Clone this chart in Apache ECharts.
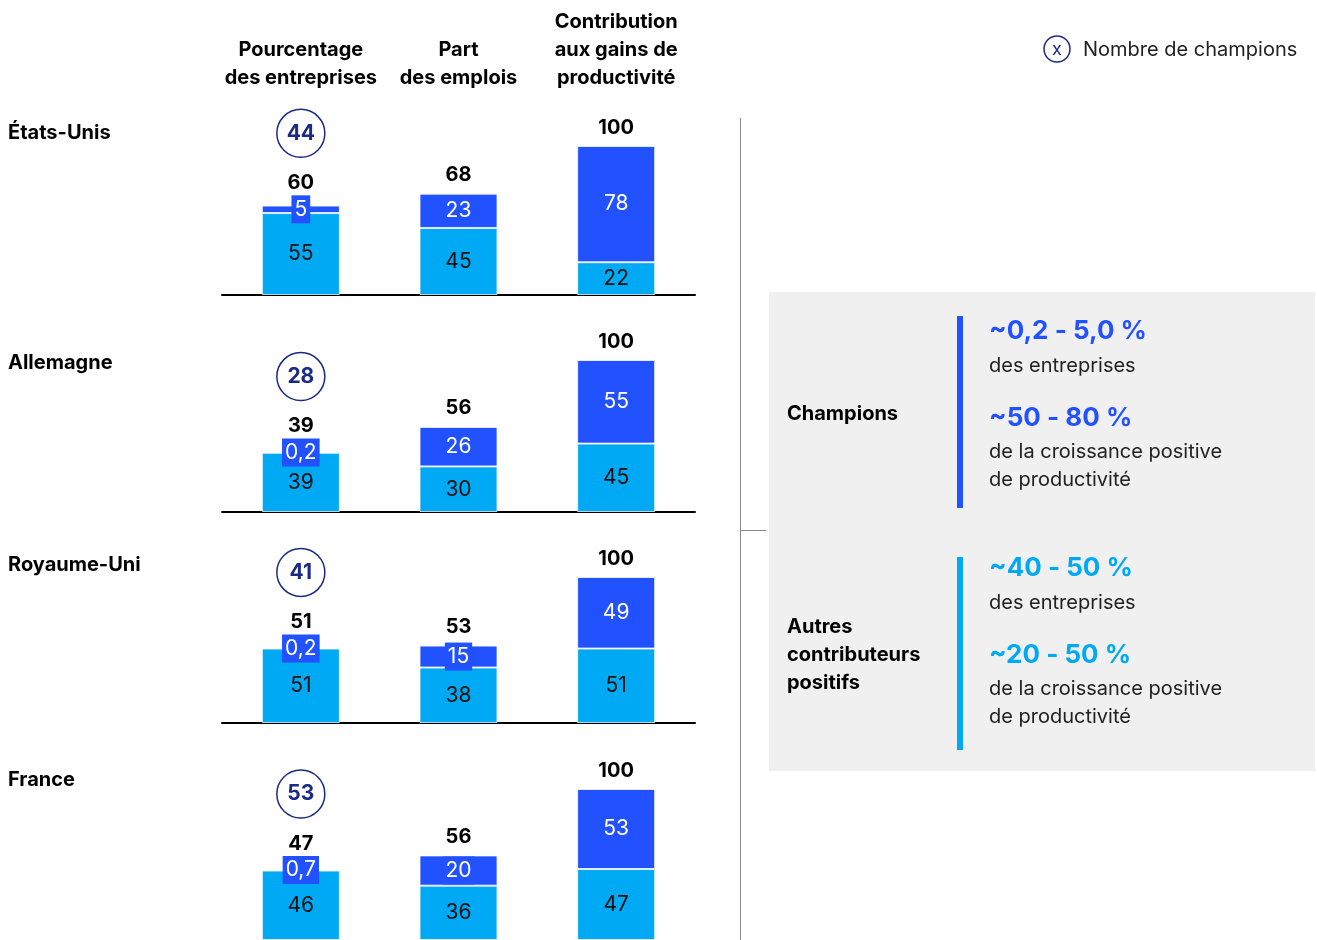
<!DOCTYPE html>
<html>
<head>
<meta charset="utf-8">
<script src="https://cdn.jsdelivr.net/npm/echarts@6/dist/echarts.min.js"></script>
<style>
  html, body { margin: 0; padding: 0; background: #fff; }
  #chart { width: 1317px; height: 940px; }
</style>
</head>
<body>
<div id="chart"></div>
<script>
// Column headers (categories) and country panels
const categories = ['Pourcentage\ndes entreprises', 'Part\ndes emplois', 'Contribution\naux gains de\nproductivité'];
const countries = ['États-Unis', 'Allemagne', 'Royaume-Uni', 'France'];

// "Autres contributeurs positifs" segment (light), per country, per column
const autres = [
  [55, 45, 22],
  [39, 30, 45],
  [51, 38, 51],
  [46, 36, 47]
];
// "Champions" segment (dark), per country, per column
const champions = [
  [5, 23, 78],
  [0.2, 26, 55],
  [0.2, 15, 49],
  [0.7, 20, 53]
];
// Totals printed above each bar
const totals = [
  [60, 68, 100],
  [39, 56, 100],
  [51, 53, 100],
  [47, 56, 100]
];
// Number of champion firms (circled)
const nbChampions = [44, 28, 41, 53];

// Side panel texts
const panelChampions = { title: 'Champions', a: '~0,2 - 5,0 %', aText: 'des entreprises', b: '~50 - 80 %', bText: 'de la croissance positive\nde productivité' };
const panelAutres = { title: 'Autres\ncontributeurs\npositifs', a: '~40 - 50 %', aText: 'des entreprises', b: '~20 - 50 %', bText: 'de la croissance positive\nde productivité' };
const legendText = 'Nombre de champions';

const DARK = '#2251FF';
const LIGHT = '#00A9F4';
const NAVY = '#1B2A86';
const FONT = 'Inter, "Liberation Sans", Arial, sans-serif';

// Panel layout: top of the 100 level, height down to the baseline, country label centre
const panels = [
  { top: 146, height: 149, labelY: 133 },
  { top: 360, height: 152, labelY: 363 },
  { top: 577, height: 146, labelY: 565 },
  { top: 789, height: 152, labelY: 780, noBaseline: true }
];
const gridLeft = 222, gridWidth = 473;

const fmt = v => String(v).replace('.', ',');

const grids = [], xAxes = [], yAxes = [], series = [], graphics = [];

panels.forEach((p, i) => {
  grids.push({ left: gridLeft, width: gridWidth, top: p.top, height: p.height });
  const pxPerUnit = p.height / 100;

  xAxes.push({
    type: 'category', gridIndex: i, data: categories, position: 'bottom',
    axisLine: { show: !p.noBaseline, lineStyle: { color: '#000', width: 2 } },
    axisTick: { show: false }, axisLabel: { show: false }
  });
  yAxes.push({ type: 'value', gridIndex: i, min: 0, max: 100, show: false, splitLine: { show: false } });

  const xIdx = xAxes.length - 1;

  series.push({
    type: 'bar', name: 'Autres contributeurs positifs', xAxisIndex: xIdx, yAxisIndex: i,
    stack: 'c' + i, barWidth: 78, data: autres[i],
    itemStyle: { color: LIGHT, borderColor: 'rgba(255,255,255,0.75)', borderWidth: 1 },
    label: { show: true, position: 'inside', color: '#111', fontSize: 21, fontFamily: FONT, formatter: d => fmt(d.value) }
  });
  series.push({
    type: 'bar', name: 'Champions', xAxisIndex: xIdx, yAxisIndex: i,
    stack: 'c' + i, barWidth: 78, data: champions[i],
    itemStyle: { color: DARK, borderColor: 'rgba(255,255,255,0.75)', borderWidth: 1 },
    label: {
      show: true, position: 'inside', color: '#fff', fontSize: 21, fontFamily: FONT,
      backgroundColor: DARK, padding: [0, 3], lineHeight: 28,
      formatter: d => fmt(d.value)
    }
  });

  // Totals above each bar, lifted when the small dark label box sticks out
  const totalData = categories.map((c, j) => {
    const segPx = champions[i][j] * pxPerUnit;
    const dist = 8 + Math.max(0, 8 - segPx / 2);
    return {
      value: [j, autres[i][j] + champions[i][j]],
      label: { distance: dist },
      _dist: dist
    };
  });
  series.push({
    type: 'scatter', xAxisIndex: xIdx, yAxisIndex: i, clip: false,
    symbolSize: 1, itemStyle: { color: 'rgba(0,0,0,0)', opacity: 1 }, silent: true,
    data: totalData,
    label: {
      show: true, position: 'top', color: '#000', fontSize: 20, fontWeight: 'bold', fontFamily: FONT,
      formatter: d => fmt(totals[i][d.dataIndex])
    },
    z: 6
  });

  // Circled number of champions above the first column
  const off = totalData[0]._dist + 60;
  series.push({
    type: 'scatter', xAxisIndex: xIdx, yAxisIndex: i, clip: false, silent: true,
    symbol: 'circle', symbolSize: 48, symbolOffset: [0, -off],
    itemStyle: { color: '#fff', borderColor: NAVY, borderWidth: 1.5, opacity: 1 },
    data: [{ value: [0, autres[i][0] + champions[i][0]] }],
    label: {
      show: true, position: 'inside', color: NAVY,
      fontSize: 21, fontWeight: 'bold', fontFamily: FONT,
      formatter: () => String(nbChampions[i])
    },
    z: 5
  });

  // Country name
  graphics.push({
    type: 'text', x: 8, y: p.labelY,
    style: { text: countries[i], font: 'bold 20px ' + FONT, fill: '#000', verticalAlign: 'middle' }
  });
});

// Column headers drawn by a top category axis on the first panel
xAxes.push({
  type: 'category', gridIndex: 0, data: categories, position: 'top',
  axisLine: { show: false }, axisTick: { show: false },
  axisLabel: {
    show: true, interval: 0, margin: 54, color: '#000', fontSize: 20, fontWeight: 'bold',
    fontFamily: FONT, lineHeight: 28, align: 'center'
  }
});

// Separator line and tick
graphics.push({ type: 'line', shape: { x1: 740.5, y1: 118, x2: 740.5, y2: 940 }, style: { stroke: '#8a8a8a', lineWidth: 1 } });
graphics.push({ type: 'line', shape: { x1: 740, y1: 530.5, x2: 766, y2: 530.5 }, style: { stroke: '#8a8a8a', lineWidth: 1 } });

// Legend: circled x
graphics.push({ type: 'circle', shape: { cx: 1057, cy: 49, r: 13 }, style: { fill: '#fff', stroke: NAVY, lineWidth: 1.5 } });
graphics.push({ type: 'text', x: 1057, y: 50, style: { text: 'x', font: '18px ' + FONT, fill: NAVY, align: 'center', verticalAlign: 'middle' } });
graphics.push({ type: 'text', x: 1083, y: 50, style: { text: legendText, font: '20px ' + FONT, fill: '#222', verticalAlign: 'middle' } });

// Grey side panel
graphics.push({ type: 'rect', shape: { x: 769, y: 292, width: 546, height: 479 }, style: { fill: '#F0F0F0' }, z: -1 });

function sidePanel(data, color, barTop, barH, titleY, aY) {
  graphics.push({ type: 'rect', shape: { x: 957, y: barTop, width: 6, height: barH }, style: { fill: color } });
  graphics.push({ type: 'text', x: 787, y: titleY, style: { text: data.title, font: 'bold 20px ' + FONT, fill: '#000', verticalAlign: 'middle', lineHeight: 28 } });
  graphics.push({ type: 'text', x: 989, y: aY, style: { text: data.a, font: 'bold 26px ' + FONT, fill: color, verticalAlign: 'middle' } });
  graphics.push({ type: 'text', x: 989, y: aY + 35, style: { text: data.aText, font: '20px ' + FONT, fill: '#222', verticalAlign: 'middle' } });
  graphics.push({ type: 'text', x: 989, y: aY + 87, style: { text: data.b, font: 'bold 26px ' + FONT, fill: color, verticalAlign: 'middle' } });
  graphics.push({ type: 'text', x: 989, y: aY + 107, style: { text: data.bText, font: '20px ' + FONT, fill: '#222', verticalAlign: 'top', lineHeight: 28 } });
}
sidePanel(panelChampions, DARK, 316, 192, 414, 331);
sidePanel(panelAutres, LIGHT, 557, 193, 655, 568);

const chart = echarts.init(document.getElementById('chart'), null, { renderer: 'canvas' });
chart.setOption({
  animation: false,
  backgroundColor: '#fff',
  grid: grids,
  xAxis: xAxes,
  yAxis: yAxes,
  series: series,
  graphic: graphics
});
</script>
</body>
</html>
